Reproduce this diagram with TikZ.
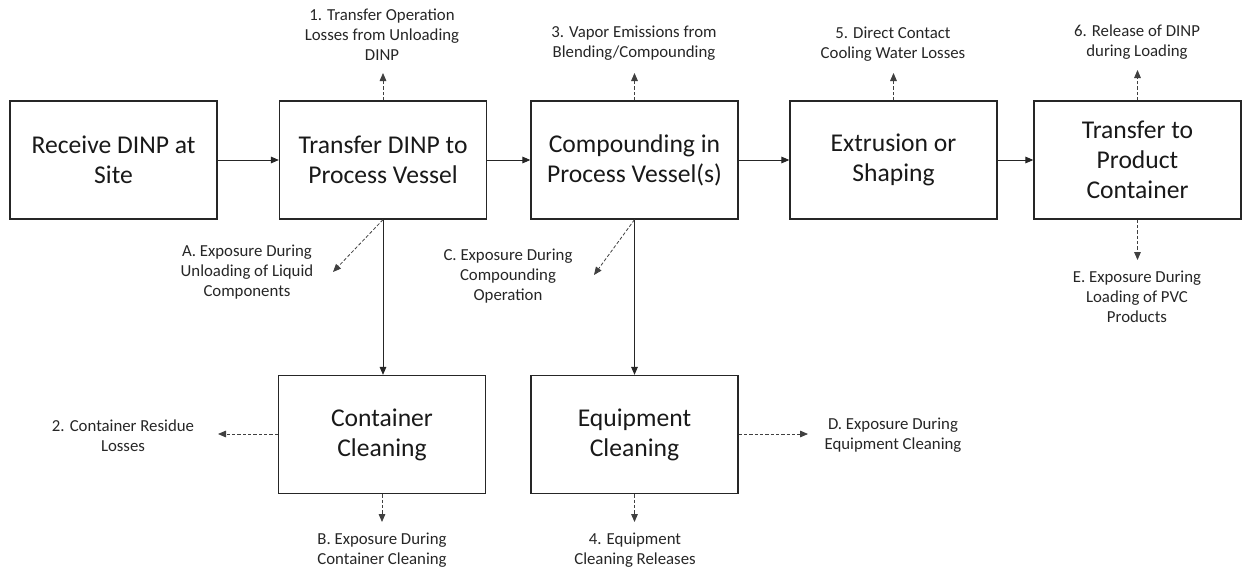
\documentclass[tikz,border=0pt]{standalone}
\usepackage{fontspec}
\setmainfont{Carlito}
\usetikzlibrary{arrows.meta}
\begin{document}
\begin{tikzpicture}[x=0.75pt,y=-0.75pt,
  stepbox/.style={draw=black!85,line width=1pt,minimum width=155.25pt,minimum height=88.5pt,
    inner sep=0pt,align=center,font=\fontsize{19.2}{22.5}\selectfont,text=black!90},
  note/.style={inner sep=0pt,align=center,font=\fontsize{12.6}{15.2}\selectfont,text=black!85},
  flow/.style={draw=black!85,line width=0.7pt,-{Triangle[length=6pt,width=5pt]}},
  loss/.style={draw=black!75,line width=0.6pt,dash pattern=on 2.5pt off 1.5pt,
    -{Triangle[length=6pt,width=5pt]}}]
\useasboundingbox (0,0) rectangle (1243,571);

% process steps
\node[stepbox] (recv) at (113.5,160) {Receive DINP at\\Site};
\node[stepbox] (xfer) at (383,160) {Transfer DINP to\\Process Vessel};
\node[stepbox] (comp) at (634.5,160) {Compounding in\\Process Vessel(s)};
\node[stepbox] (extr) at (893.5,160) {Extrusion or\\Shaping};
\node[stepbox] (prod) at (1137.5,160) {Transfer to\\Product\\Container};
\node[stepbox] (ccln) at (382,434.5) {Container\\Cleaning};
\node[stepbox] (ecln) at (634.5,434.5) {Equipment\\Cleaning};

% main flow
\draw[flow] (recv.east) -- (xfer.west);
\draw[flow] (xfer.east) -- (comp.west);
\draw[flow] (comp.east) -- (extr.west);
\draw[flow] (extr.east) -- (prod.west);
\draw[flow] (xfer.south) -- (xfer.south |- ccln.north);
\draw[flow] (comp.south) -- (comp.south |- ecln.north);

% release and exposure points
\coordinate (r1) at (383,73);
\coordinate (r3) at (634.5,73);
\coordinate (r5) at (893.5,73);
\coordinate (r6) at (1137.5,70);
\coordinate (eE) at (1137.5,260);
\coordinate (eA) at (333,272);
\coordinate (eC) at (594,275);
\coordinate (r2) at (218,434);
\coordinate (eD) at (808,434);
\coordinate (eB) at (382,522);
\coordinate (r4) at (634.5,522);

\draw[loss] (xfer.north) -- (r1);
\draw[loss] (comp.north) -- (r3);
\draw[loss] (extr.north) -- (r5);
\draw[loss] (prod.north) -- (r6);
\draw[loss] (prod.south) -- (eE);
\draw[loss] (xfer.south) -- (eA);
\draw[loss] (comp.south) -- (eC);
\draw[loss] (ccln.west |- r2) -- (r2);
\draw[loss] (ecln.east |- eD) -- (eD);
\draw[loss] (ccln.south) -- (eB);
\draw[loss] (ecln.south) -- (r4);

% labels
\node[note] (n1) at (382,34.5) {1. Transfer Operation\\Losses from Unloading\\DINP};
\node[note] (n3) at (634,43) {3. Vapor Emissions from\\Blending/Compounding};
\node[note] (n5) at (893,44) {5. Direct Contact\\Cooling Water Losses};
\node[note] (n6) at (1137,42) {6. Release of DINP\\during Loading};
\node[note] (nE) at (1137,297) {E. Exposure During\\Loading of PVC\\Products};
\node[note] (nA) at (247,272) {A. Exposure During\\Unloading of Liquid\\Components};
\node[note] (nC) at (508,276) {C. Exposure During\\Compounding\\Operation};
\node[note] (n2) at (123,435.5) {2. Container Residue\\Losses};
\node[note] (nD) at (893,435.5) {D. Exposure During\\Equipment Cleaning};
\node[note] (nB) at (382,550.5) {B. Exposure During\\Container Cleaning};
\node[note] (n4) at (635,550.5) {4. Equipment\\Cleaning Releases};
\end{tikzpicture}
\end{document}
